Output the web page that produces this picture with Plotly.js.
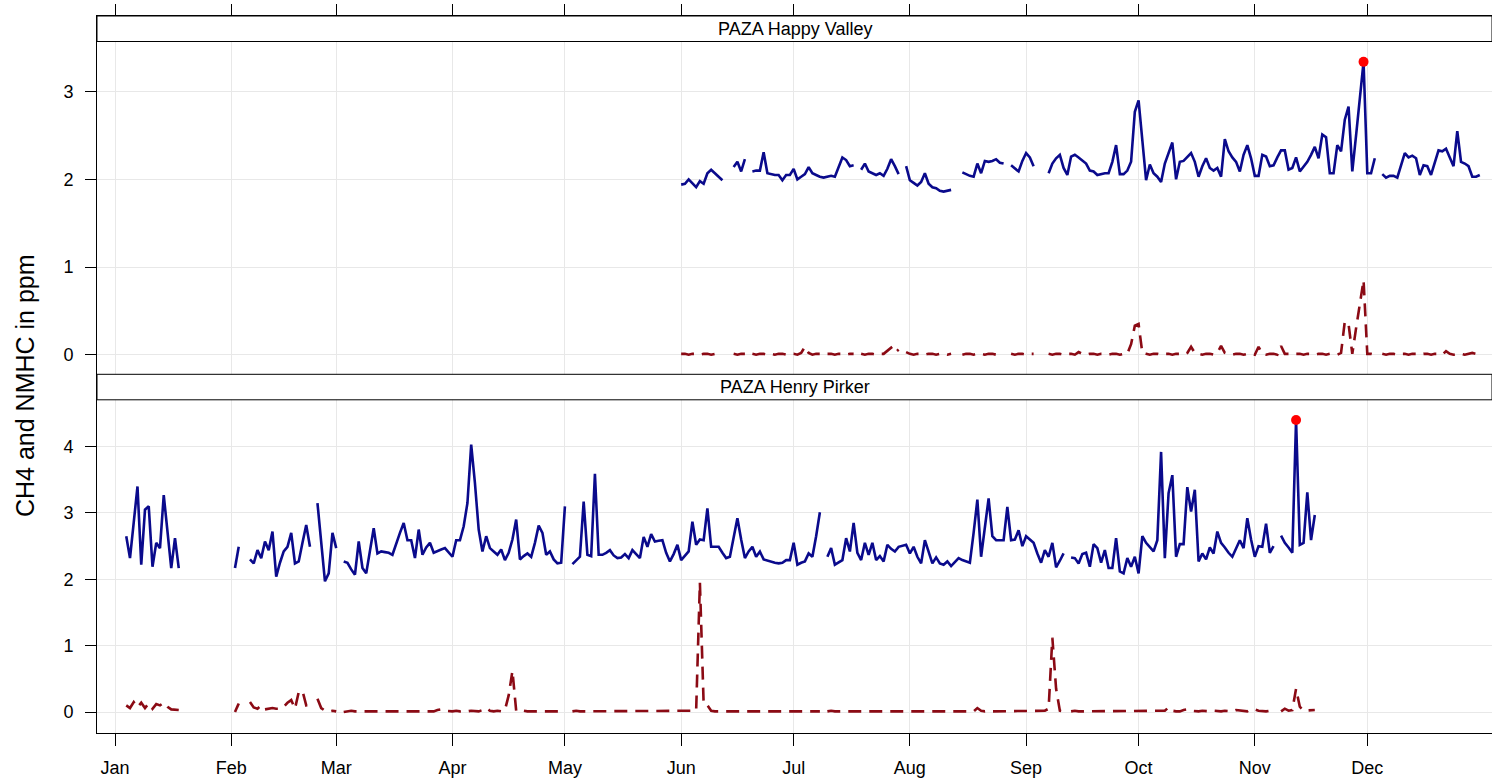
<!DOCTYPE html>
<html>
<head>
<meta charset="utf-8">
<script src="https://cdn.plot.ly/plotly-3.0.1.min.js"></script>
<style>html,body{margin:0;padding:0;background:#fff;}#chart{width:1492px;height:783px;}</style>
</head>
<body>
<div id="chart"></div>
<script>
// ---------- data ----------
const monthTicks = ['2015-01-01','2015-02-01','2015-03-01','2015-04-01','2015-05-01','2015-06-01',
                    '2015-07-01','2015-08-01','2015-09-01','2015-10-01','2015-11-01','2015-12-01'];
const monthLabels = ['Jan','Feb','Mar','Apr','May','Jun','Jul','Aug','Sep','Oct','Nov','Dec'];
const panelTitles = ['PAZA Happy Valley', 'PAZA Henry Pirker'];
const yTitle = 'CH4 and NMHC in ppm';

// PAZA Happy Valley, daily values from 2015-06-01 (null = missing day)
const hvStart = '2015-06-01';
const hvCH4 = [
 1.94,1.95,2.00,1.96,1.91,1.98,1.95,2.07,2.11,2.07,2.03,1.99,
 null,null,
 2.14,2.20,2.09,2.23,
 null,
 2.09,2.10,2.10,2.31,2.07,2.06,2.05,2.05,1.99,2.05,2.05,2.12,2.00,2.03,2.06,2.14,2.07,2.05,2.03,2.02,2.03,2.04,2.03,2.15,2.25,2.22,2.15,2.16,
 null,
 2.11,2.18,2.09,2.07,2.05,2.07,2.04,2.12,2.23,2.15,2.06,
 null,
 2.15,1.99,1.96,1.93,1.97,2.07,1.95,1.91,1.90,1.87,1.86,1.87,1.88,
 null,null,
 2.08,2.06,2.04,2.03,2.18,2.07,2.21,2.20,2.21,2.23,2.19,2.18,
 null,
 2.16,2.12,2.09,2.21,2.30,2.25,2.15,
 null,null,null,
 2.07,2.18,2.24,2.28,2.13,2.05,2.26,2.28,2.25,2.21,
 2.18,2.10,2.09,2.05,2.06,2.07,2.07,2.20,2.39,2.06,
 2.06,2.10,2.20,2.77,2.90,2.41,1.99,2.17,2.07,2.03,
 1.97,2.18,2.30,2.42,2.00,2.20,2.21,2.25,2.30,2.20,
 2.03,2.15,2.24,2.13,2.10,2.13,2.03,2.46,2.32,2.25,
 2.20,2.09,2.28,2.39,2.24,2.04,2.04,2.28,2.26,2.15,
 2.16,2.25,2.33,2.33,2.11,2.13,2.25,2.09,2.15,2.20,
 2.28,2.37,2.24,2.51,2.48,2.07,2.07,2.39,2.32,2.68,
 2.83,2.09,2.50,2.92,3.34,2.07,2.07,2.24,
 null,
 2.06,2.02,2.04,2.04,2.02,2.15,2.30,2.25,2.27,2.24,2.05,2.16,2.15,2.05,2.20,2.33,2.32,2.35,2.25,2.15,2.55,2.20,2.18,2.15,2.03,2.03,2.05
];
const hvNMHC = [
 0.01,0.01,0.00,0.01,0.01,0.00,0.01,0.01,0.00,0.01,0.01,0.00,
 null,null,
 0.01,0.00,0.01,0.01,
 null,
 0.01,0.00,0.01,0.01,0.00,0.01,0.00,0.01,0.01,0.00,0.01,0.01,0.00,0.02,0.09,0.02,0.00,0.01,0.01,0.00,0.01,0.01,0.00,0.01,0.01,0.00,0.01,0.01,
 null,
 0.01,0.00,0.01,0.01,0.00,0.01,0.01,0.04,0.08,0.02,0.06,
 null,
 0.03,0.01,0.00,0.01,0.01,0.00,0.01,0.01,0.00,0.01,0.01,0.00,0.01,
 null,null,
 0.00,0.01,0.01,0.00,0.01,0.01,0.00,0.01,0.01,0.00,0.01,0.01,
 null,
 0.01,0.00,0.01,0.01,0.00,0.01,0.01,
 null,null,null,
 0.01,0.00,0.01,0.01,0.00,0.01,0.01,0.00,0.03,0.01,
 0.00,0.01,0.01,0.00,0.01,0.01,0.00,0.01,0.01,0.00,
 0.01,0.01,0.12,0.33,0.35,0.02,0.01,0.00,0.01,0.01,
 0.00,0.01,0.01,0.00,0.01,0.01,0.00,0.02,0.09,0.02,
 0.01,0.00,0.01,0.01,0.00,0.02,0.10,0.02,0.01,0.00,
 0.01,0.01,0.00,0.01,0.01,0.00,0.09,0.01,0.00,0.01,
 0.01,0.00,0.10,0.01,0.01,0.00,0.01,0.01,0.00,0.01,
 0.01,0.00,0.01,0.01,0.00,0.01,0.01,0.00,0.02,0.38,
 0.35,0.01,0.30,0.58,0.85,0.01,0.01,0.00,
 null,
 0.01,0.00,0.01,0.01,0.00,0.01,0.01,0.00,0.01,0.01,0.00,0.01,0.01,0.00,0.01,0.01,0.00,0.04,0.01,0.00,0.01,0.01,0.00,0.01,0.02,0.01,0.00
];

// PAZA Henry Pirker, daily values from 2015-01-04 (null = missing day)
const hpStart = '2015-01-04';
const hpCH4 = [
 2.65,2.32,2.86,3.40,2.22,3.05,3.10,2.19,2.55,2.47,3.27,2.72,2.17,2.62,2.17,
 null,null,null,null,null,null,null,null,null,null,null,null,null,null,
 2.17,2.49,
 null,null,
 2.30,2.24,2.44,2.32,2.57,2.44,2.72,2.04,2.25,2.42,2.49,2.70,2.24,2.27,2.55,2.82,2.49,
 null,
 3.15,2.56,1.97,2.09,2.70,2.47,
 null,
 2.27,2.25,2.15,2.07,2.57,2.17,2.09,2.45,2.77,2.39,
 2.42,2.41,2.40,2.37,2.55,2.70,2.85,2.59,2.59,2.32,
 2.75,2.37,2.48,2.55,2.40,2.43,2.45,2.47,2.40,2.34,
 2.59,2.59,2.80,3.15,4.03,3.45,2.75,2.42,2.65,2.47,
 2.42,2.37,2.45,2.29,2.40,2.60,2.90,2.30,2.35,2.39,
 2.34,2.55,2.81,2.70,2.37,2.42,2.30,2.24,2.25,3.10,
 null,
 2.23,2.28,2.34,3.17,2.37,2.35,3.59,2.37,2.37,2.40,
 2.44,2.36,2.32,2.33,2.38,2.32,2.44,2.38,2.32,2.64,
 2.49,2.68,2.57,2.58,2.59,2.40,2.27,2.38,2.52,2.29,
 2.36,2.42,2.87,2.52,2.60,2.59,3.07,2.49,2.49,2.49,
 2.40,2.32,2.34,2.62,2.92,2.60,2.32,2.42,2.49,2.34,
 2.42,2.30,2.28,2.26,2.25,2.24,2.25,2.29,2.29,2.55,
 2.22,2.25,2.27,2.39,2.34,2.65,3.01,
 null,
 2.34,2.47,2.22,2.26,2.29,2.62,2.42,2.85,2.40,2.29,
 2.55,2.37,2.55,2.29,2.35,2.27,2.52,2.46,2.42,2.49,
 2.50,2.52,2.39,2.49,2.34,2.24,2.59,2.42,2.24,2.33,
 2.24,2.22,2.27,2.20,2.26,2.32,2.29,2.27,2.25,2.70,
 3.20,2.34,2.75,3.22,2.65,2.59,2.59,2.59,3.09,2.59,
 2.60,2.74,2.50,2.65,2.60,2.55,2.39,2.25,2.44,2.34,
 2.55,2.18,2.28,2.39,
 null,
 2.33,2.32,2.24,2.38,2.40,2.19,2.53,2.47,2.25,2.44,
 2.17,2.17,2.62,2.12,2.09,2.32,2.19,2.34,2.09,2.65,
 2.55,2.49,2.42,2.59,3.92,2.32,3.30,3.57,2.34,2.53,
 2.53,3.39,3.02,3.35,2.27,2.39,2.30,2.48,2.39,2.72,
 2.55,2.48,2.40,2.34,2.46,2.59,2.47,2.92,2.60,2.34,
 2.50,2.49,2.84,2.40,2.50,
 null,
 2.66,2.55,2.48,2.40,4.40,2.52,2.55,3.31,2.59,2.97
];
const hpNMHC = [
 0.10,0.06,0.15,0.07,0.14,0.06,0.13,0.05,0.12,0.10,0.14,0.08,0.04,0.03,0.03,
 null,null,null,null,null,null,null,null,null,null,null,null,null,null,
 0.00,0.13,
 null,null,
 0.15,0.07,0.05,0.10,0.04,0.05,0.06,0.05,0.05,0.08,0.14,0.18,0.05,0.30,0.32,0.10,0.12,
 null,
 0.20,0.06,0.02,0.01,0.02,0.01,
 null,
 0.00,0.01,0.02,0.01,0.01,0.02,0.01,0.01,0.02,0.01,
 0.01,0.02,0.01,0.01,0.02,0.01,0.01,0.02,0.01,0.01,
 0.02,0.01,0.01,0.02,0.01,0.03,0.04,0.02,0.01,0.01,
 0.02,0.01,0.02,0.01,0.02,0.01,0.01,0.03,0.06,0.02,
 0.01,0.02,0.01,0.03,0.25,0.62,0.02,0.01,0.02,0.01,
 0.01,0.02,0.01,0.01,0.02,0.01,0.01,0.02,0.01,0.01,
 null,
 0.01,0.02,0.01,0.01,0.02,0.01,0.01,0.02,0.01,0.01,
 0.02,0.01,0.01,0.02,0.01,0.01,0.02,0.01,0.01,0.02,
 0.01,0.01,0.02,0.01,0.01,0.02,0.01,0.01,0.02,0.01,
 0.01,0.02,0.01,0.02,1.95,0.12,0.10,0.02,0.01,0.01,
 0.02,0.01,0.01,0.02,0.01,0.01,0.02,0.01,0.01,0.02,
 0.01,0.01,0.02,0.01,0.01,0.02,0.01,0.01,0.02,0.01,
 0.01,0.02,0.01,0.01,0.02,0.01,0.01,
 null,
 0.01,0.02,0.01,0.01,0.02,0.01,0.01,0.02,0.01,0.01,
 0.02,0.01,0.01,0.02,0.01,0.01,0.02,0.01,0.01,0.02,
 0.01,0.01,0.02,0.01,0.01,0.02,0.01,0.01,0.02,0.01,
 0.01,0.02,0.01,0.01,0.02,0.01,0.01,0.02,0.01,0.01,
 0.06,0.02,0.01,0.02,0.01,0.01,0.02,0.01,0.01,0.02,
 0.01,0.01,0.02,0.01,0.01,0.02,0.01,0.01,0.02,0.05,
 1.12,0.35,0.02,0.01,
 null,
 0.01,0.02,0.01,0.01,0.02,0.01,0.01,0.02,0.01,0.01,
 0.02,0.01,0.01,0.02,0.01,0.01,0.02,0.01,0.01,0.02,
 0.01,0.01,0.02,0.01,0.01,0.02,0.07,0.02,0.01,0.01,
 0.03,0.04,0.02,0.01,0.01,0.02,0.01,0.01,0.02,0.01,
 0.01,0.02,0.01,0.01,0.03,0.02,0.01,0.01,0.04,0.04,
 0.02,0.01,0.01,0.02,0.01,
 null,
 0.01,0.05,0.02,0.03,0.35,0.08,0.02,0.02,0.03,0.03
];

// ---------- helpers ----------
function dailyDates(start, n) {
  const t0 = Date.parse(start + 'T00:00:00Z');
  const out = [];
  for (let i = 0; i < n; i++) out.push(new Date(t0 + i * 86400000).toISOString().slice(0, 10));
  return out;
}
function maxPoint(dates, vals) {
  let bi = -1;
  vals.forEach((v, i) => { if (v !== null && (bi < 0 || v > vals[bi])) bi = i; });
  return { x: [dates[bi]], y: [vals[bi]] };
}
const hvDates = dailyDates(hvStart, hvCH4.length);
const hpDates = dailyDates(hpStart, hpCH4.length);
const hvMax = maxPoint(hvDates, hvCH4);
const hpMax = maxPoint(hpDates, hpCH4);

const CH4_COLOR = '#0a0a8c';
const NMHC_COLOR = '#8b0a14';
const lineCH4 = { color: CH4_COLOR, width: 2.6 };
const lineNMHC = { color: NMHC_COLOR, width: 2.6, dash: '13px,8px' };

const traces = [
  { x: hvDates, y: hvCH4, xaxis: 'x2', yaxis: 'y2', mode: 'lines', line: lineCH4, name: 'CH4' },
  { x: hvDates, y: hvNMHC, xaxis: 'x2', yaxis: 'y2', mode: 'lines', line: lineNMHC, name: 'NMHC' },
  { x: hvMax.x, y: hvMax.y, xaxis: 'x2', yaxis: 'y2', mode: 'markers', marker: { color: '#ff0000', size: 10 }, name: 'max' },
  { x: hpDates, y: hpCH4, xaxis: 'x', yaxis: 'y', mode: 'lines', line: lineCH4, name: 'CH4' },
  { x: hpDates, y: hpNMHC, xaxis: 'x', yaxis: 'y', mode: 'lines', line: lineNMHC, name: 'NMHC' },
  { x: hpMax.x, y: hpMax.y, xaxis: 'x', yaxis: 'y', mode: 'markers', marker: { color: '#ff0000', size: 10 }, name: 'max' }
];

// ---------- layout geometry (pixels) ----------
const W = 1492, H = 783;
const ML = 97, MR = 0, MT = 16, MB = 50;
const plotH = H - MT - MB;
const py = p => (H - MB - p) / plotH;   // pixel row -> paper y
const split = py(374.3);
const stripH = 25.5;

const FONT = 'Liberation Sans, Arial, sans-serif';
const GRID = '#e8e8e8';
const xRange = ['2014-12-27 04:48', '2016-01-03 06:14'];

const commonX = {
  type: 'date', range: xRange, tickmode: 'array', tickvals: monthTicks, ticktext: monthLabels,
  showgrid: true, gridcolor: GRID, gridwidth: 1, zeroline: false,
  showline: true, linecolor: '#000', linewidth: 1,
  ticks: 'outside', ticklen: 12, tickcolor: '#000', tickwidth: 1,
  tickfont: { family: FONT, size: 18, color: '#000' }
};
const commonY = {
  showgrid: true, gridcolor: GRID, gridwidth: 1, zeroline: false,
  showline: true, linecolor: '#000', linewidth: 1,
  ticks: 'outside', ticklen: 11, tickcolor: '#000', tickwidth: 1,
  tickfont: { family: FONT, size: 18, color: '#000' }, ticklabelstandoff: 8
};

const layout = {
  width: W, height: H,
  margin: { l: ML, r: MR, t: MT, b: MB, pad: 0 },
  paper_bgcolor: '#fff', plot_bgcolor: '#fff',
  showlegend: false,
  xaxis: Object.assign({}, commonX, { anchor: 'y', side: 'bottom', ticklabelstandoff: 6 }),
  yaxis: Object.assign({}, commonY, { domain: [0, split], range: [-0.316, 5.090], tickvals: [0, 1, 2, 3, 4] }),
  xaxis2: Object.assign({}, commonX, { anchor: 'y2', side: 'top', showticklabels: false, ticklen: 11 }),
  yaxis2: Object.assign({}, commonY, { domain: [split, 1], range: [-0.2235, 3.863], tickvals: [0, 1, 2, 3] }),
  shapes: [
    { type: 'rect', xref: 'paper', yref: 'paper', x0: 0, x1: 1, y0: py(MT + stripH), y1: 1,
      fillcolor: '#fff', line: { color: '#000', width: 1 }, layer: 'above' },
    { type: 'rect', xref: 'paper', yref: 'paper', x0: 0, x1: 1, y0: py(374.3 + stripH), y1: split,
      fillcolor: '#fff', line: { color: '#000', width: 1 }, layer: 'above' }
  ],
  annotations: [
    { text: panelTitles[0], xref: 'paper', yref: 'paper', x: 0.5, y: py(MT + stripH / 2),
      xanchor: 'center', yanchor: 'middle', showarrow: false, font: { family: FONT, size: 18, color: '#000' } },
    { text: panelTitles[1], xref: 'paper', yref: 'paper', x: 0.5, y: py(374.3 + stripH / 2),
      xanchor: 'center', yanchor: 'middle', showarrow: false, font: { family: FONT, size: 18, color: '#000' } },
    { text: yTitle, xref: 'paper', yref: 'paper', x: (25 - ML) / (W - ML - MR), y: py(386),
      xanchor: 'center', yanchor: 'middle', textangle: -90, showarrow: false,
      font: { family: FONT, size: 25, color: '#000' } }
  ]
};

Plotly.newPlot('chart', traces, layout, { displayModeBar: false, staticPlot: true });
</script>
</body>
</html>
